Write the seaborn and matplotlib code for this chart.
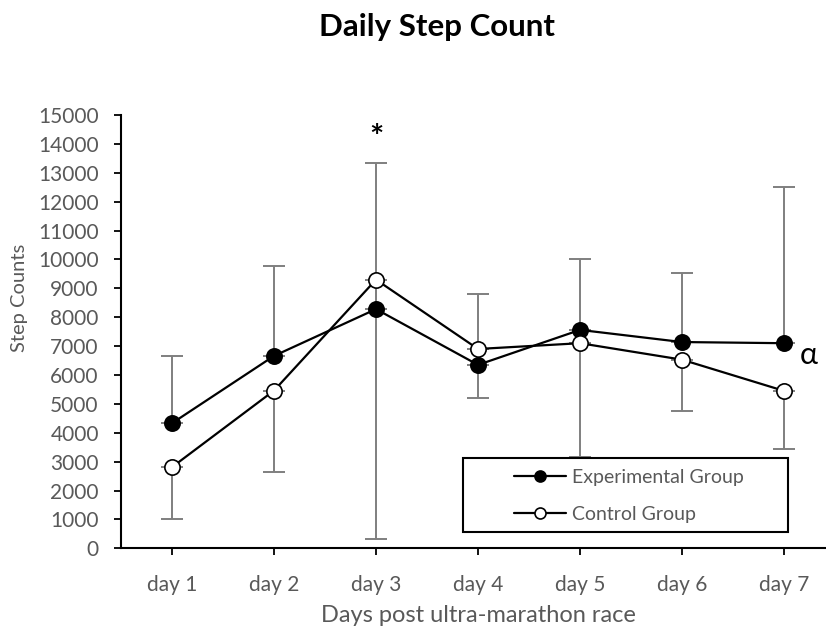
import numpy as np
import pandas as pd
import matplotlib
matplotlib.use("Agg")
import matplotlib.pyplot as plt
from matplotlib.patches import Rectangle
import seaborn as sns

days = ["day 1", "day 2", "day 3", "day 4", "day 5", "day 6", "day 7"]
exp_mean = [4330, 6660, 8280, 6350, 7560, 7140, 7100]
exp_err_up = [2310, 3120, 5060, 2470, 2460, 2400, 5390]
ctrl_mean = [2810, 5460, 9300, 6900, 7100, 6530, 5450]
ctrl_err_down = [1790, 2830, 8990, 1680, 3950, 1790, 2010]
y_ticks = list(range(0, 15001, 1000))

sns.set_theme(style="white")
plt.rcParams['font.family'] = ['Lato', 'DejaVu Sans']

grey = "#595959"
fig = plt.figure(figsize=(8.26, 6.28), dpi=100)
ax = fig.add_axes([0.1465, 0.1269, 0.8644, 0.69])

df_exp = pd.DataFrame({"day": days, "steps": exp_mean})
df_ctrl = pd.DataFrame({"day": days, "steps": ctrl_mean})

# error bars
ax.errorbar(days, exp_mean, yerr=[np.zeros(len(days)), exp_err_up], fmt="none",
            ecolor="#7f7f7f", elinewidth=1.4, capsize=8, capthick=1.4, zorder=1)
ax.errorbar(days, ctrl_mean, yerr=[ctrl_err_down, np.zeros(len(days))], fmt="none",
            ecolor="#7f7f7f", elinewidth=1.4, capsize=8, capthick=1.4, zorder=1)

sns.lineplot(data=df_exp, x="day", y="steps", ax=ax, color="black", linewidth=1.6,
             marker="o", markersize=11, markerfacecolor="black", markeredgecolor="black",
             markeredgewidth=1.2, label="Experimental Group", zorder=3, sort=False)
sns.lineplot(data=df_ctrl, x="day", y="steps", ax=ax, color="black", linewidth=1.6,
             marker="o", markersize=11, markerfacecolor="white", markeredgecolor="black",
             markeredgewidth=1.2, label="Control Group", zorder=3, sort=False)

ax.set_xlim(-0.5, 6.5)
ax.set_ylim(0, 15000)
ax.set_yticks(y_ticks)
ax.set_yticklabels([str(t) for t in y_ticks])

for s in ["top", "right"]:
    ax.spines[s].set_visible(False)
for s in ["left", "bottom"]:
    ax.spines[s].set_color("black")
    ax.spines[s].set_linewidth(1.5)

ax.tick_params(axis="y", direction="out", length=5, width=1.3, color="black",
               labelsize=15, labelcolor=grey, pad=11, left=True)
ax.tick_params(axis="x", direction="out", length=5, width=1.3, color="black",
               labelsize=15, labelcolor=grey, pad=14, bottom=True)

ax.set_xlabel("Days post ultra-marathon race", fontsize=17, color=grey)
ax.set_ylabel("Step Counts", fontsize=14.5, color=grey)
ax.xaxis.set_label_coords(0.5, -0.13)
ax.yaxis.set_label_coords(-0.13, 0.578)

ax.text(2, 14200, "*", ha="center", va="center", fontsize=24, fontweight="bold", color="black")
ax.text(6.15, 6700, "α", ha="left", va="center", fontsize=22, color="black")

# legend box (Excel-style, wider than its content)
ax.add_patch(Rectangle((0.479, 0.0376), 0.455, 0.1708, transform=ax.transAxes,
                       facecolor="white", edgecolor="black", linewidth=1.5,
                       zorder=4, clip_on=False))
leg = ax.legend(loc="upper left", bbox_to_anchor=(0.5504, 0.184), fontsize=14,
                frameon=False, borderpad=0, handlelength=2.68, handletextpad=0.3,
                labelspacing=1.06, borderaxespad=0, markerscale=0.72)
leg.set_zorder(5)
for t in leg.get_texts():
    t.set_color(grey)

fig.text(0.529, 0.957, "Daily Step Count", ha="center", va="center",
         fontsize=22.5, fontweight="bold", color="black")

fig.savefig("out.png", dpi=100)
